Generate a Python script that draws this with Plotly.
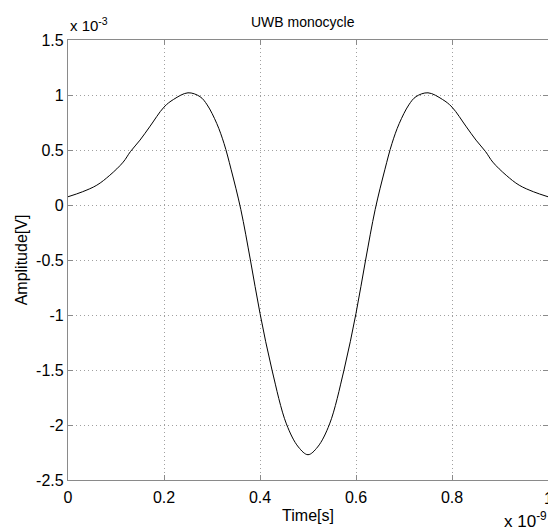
import plotly.graph_objects as go

# === Data (time in 1e-9 s, amplitude in 1e-3 V) ===
time_ns = [0, 0.03, 0.06, 0.087, 0.115, 0.13, 0.15, 0.17, 0.2, 0.22, 0.25,
           0.275, 0.29, 0.31, 0.325, 0.34, 0.36, 0.38, 0.4, 0.425, 0.455,
           0.48, 0.5, 0.52, 0.545, 0.575, 0.6, 0.62, 0.64, 0.66, 0.675,
           0.69, 0.71, 0.725, 0.75, 0.78, 0.8, 0.83, 0.85, 0.87, 0.885,
           0.913, 0.94, 0.97, 1.0]
amp_mv = [0.075, 0.12, 0.18, 0.27, 0.39, 0.485, 0.59, 0.71, 0.89, 0.96, 1.02,
          0.985, 0.91, 0.74, 0.56, 0.32, -0.04, -0.5, -0.985, -1.5, -1.99,
          -2.2, -2.27, -2.2, -1.99, -1.5, -0.985, -0.5, -0.04, 0.32, 0.56,
          0.74, 0.91, 0.985, 1.02, 0.96, 0.89, 0.71, 0.59, 0.485, 0.39,
          0.27, 0.18, 0.12, 0.075]

x_ticks = [0, 0.2, 0.4, 0.6, 0.8, 1]
x_labels = ["0", "0.2", "0.4", "0.6", "0.8", "1"]
y_ticks = [-2.5, -2, -1.5, -1, -0.5, 0, 0.5, 1, 1.5]
y_labels = ["-2.5", "-2", "-1.5", "-1", "-0.5", "0", "0.5", "1", "1.5"]

FONT = "Liberation Sans, Arial, Helvetica, sans-serif"
AXIS_GRAY = "#8a8a8a"

fig = go.Figure()
fig.add_trace(go.Scatter(
    x=time_ns, y=amp_mv, mode="lines",
    line=dict(color="black", width=1, shape="spline", smoothing=1.0),
    showlegend=False, hoverinfo="skip",
))

axis_common = dict(
    showline=True, linecolor=AXIS_GRAY, linewidth=1.3, mirror="ticks",
    ticks="inside", ticklen=5, tickcolor=AXIS_GRAY, tickwidth=1,
    showgrid=True, gridcolor="#a0a0a0", griddash="1px,3px", gridwidth=1,
    zeroline=False, automargin=False,
    tickfont=dict(family=FONT, size=16, color="black"),
)

fig.update_xaxes(range=[0, 1], tickvals=x_ticks, ticktext=x_labels,
                 ticklabelstandoff=3,
                 title=dict(text="Time[s]", font=dict(family=FONT, size=16, color="black"),
                            standoff=4),
                 **axis_common)
fig.update_yaxes(range=[-2.5, 1.5], tickvals=y_ticks, ticktext=y_labels,
                 title=dict(text="Amplitude[V]", font=dict(family=FONT, size=16, color="black"),
                            standoff=4),
                 **axis_common)

# last x tick label sits on the canvas edge, draw it so it is not dropped
fig.add_annotation(text=x_labels[-1], xref="x", yref="paper", x=x_ticks[-1], y=0,
                   xanchor="center", yanchor="top", yshift=-8, showarrow=False,
                   font=dict(family=FONT, size=16, color="black"))

# MATLAB-style title and exponent labels
fig.add_annotation(text="UWB monocycle", xref="paper", yref="paper", x=0.49, y=1,
                   xanchor="center", yanchor="bottom", yshift=8, showarrow=False,
                   font=dict(family=FONT, size=14, color="black"))
fig.add_annotation(text="x 10<sup>-3</sup>", xref="paper", yref="paper", x=0, y=1,
                   xanchor="left", yanchor="bottom", yshift=4, showarrow=False,
                   font=dict(family=FONT, size=15, color="black"))
fig.add_annotation(text="x 10<sup>-9</sup>", xref="paper", yref="paper", x=0.905, y=0,
                   xanchor="left", yanchor="top", yshift=-27, showarrow=False,
                   font=dict(family=FONT, size=17, color="black"))

fig.update_layout(
    width=548, height=530,
    margin=dict(l=68, r=0, t=40, b=50),
    paper_bgcolor="white", plot_bgcolor="white",
    font=dict(family=FONT, color="black"),
)

fig.write_html("out.html", config={"displayModeBar": False},
               post_script="document.body.style.margin='0';")
